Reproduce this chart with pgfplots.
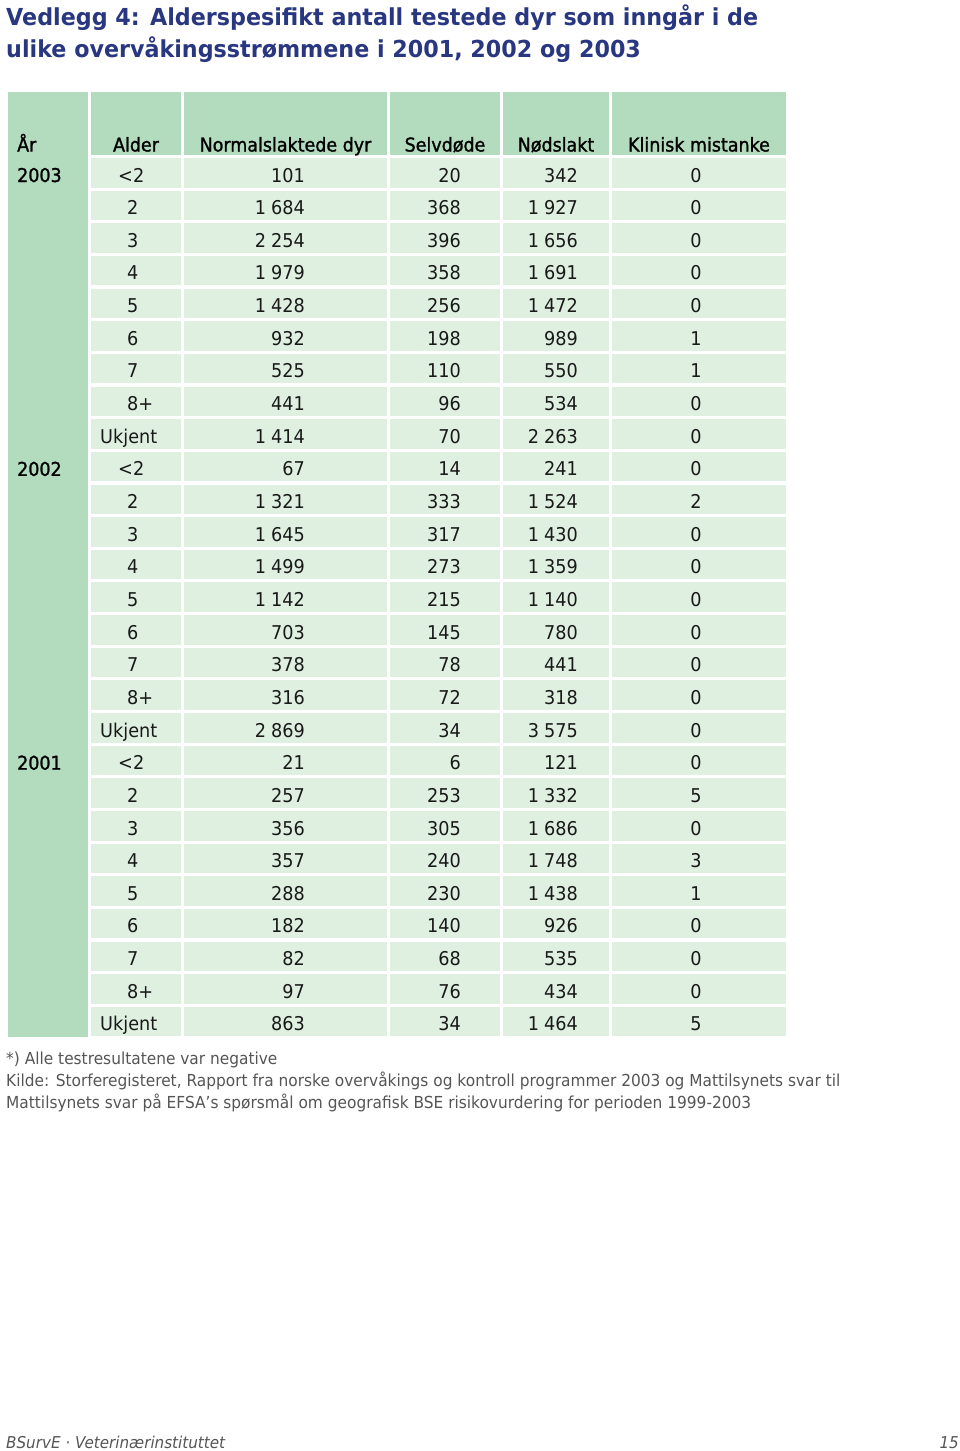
\documentclass[border=0pt]{standalone}
\usepackage{fontspec}
\setmainfont{DejaVu Sans}[FakeStretch=0.93]
\newfontfamily\titlefont{DejaVu Sans}[FakeStretch=0.95]
\newfontfamily\semibold{DejaVu Sans}[FakeStretch=0.92, FakeBold=1.3]
\usepackage{pgfplots}
\pgfplotsset{compat=1.18}
\usepackage{pgfplotstable}
\definecolor{hdr}{RGB}{179,220,190}
\definecolor{cell}{RGB}{223,240,225}
\definecolor{txt}{RGB}{25,25,25}
\definecolor{ttl}{RGB}{40,55,128}
\definecolor{note}{RGB}{85,85,85}
\newcommand\tabfont{\fontsize{19}{22}\selectfont}
\newcommand\hdrfont{\semibold\fontsize{19}{22}\selectfont}

\pgfplotstableread{
r alder ax normal selv nod klin
0 <2 118 101 20 342 0
1 2 127 1684 368 1927 0
2 3 127 2254 396 1656 0
3 4 127 1979 358 1691 0
4 5 127 1428 256 1472 0
5 6 127 932 198 989 1
6 7 127 525 110 550 1
7 8+ 127 441 96 534 0
8 Ukjent 100 1414 70 2263 0
9 <2 118 67 14 241 0
10 2 127 1321 333 1524 2
11 3 127 1645 317 1430 0
12 4 127 1499 273 1359 0
13 5 127 1142 215 1140 0
14 6 127 703 145 780 0
15 7 127 378 78 441 0
16 8+ 127 316 72 318 0
17 Ukjent 100 2869 34 3575 0
18 <2 118 21 6 121 0
19 2 127 257 253 1332 5
20 3 127 356 305 1686 0
21 4 127 357 240 1748 3
22 5 127 288 230 1438 1
23 6 127 182 140 926 0
24 7 127 82 68 535 0
25 8+ 127 97 76 434 0
26 Ukjent 100 863 34 1464 5
}\tabdata

\pgfplotstableread{
r year
0 2003
9 2002
18 2001
}\years

\begin{document}
\begin{tikzpicture}
\begin{axis}[
  scale only axis, width=960pt, height=1451pt,
  xmin=0, xmax=960, ymin=0, ymax=1451, y dir=reverse,
  hide axis, clip=false,
  /pgf/number format/assume math mode=true,
  /pgf/number format/fixed,
  /pgf/number format/precision=0,
  /pgf/number format/1000 sep={\hspace{0.26em}},
  tabtext/.style={only marks, mark=none, nodes near coords,
    nodes near coords align={center},
    every node near coord/.append style={font=\tabfont, text=txt, inner sep=0pt}},
]
% page extent
\path (axis cs:0,0) rectangle (axis cs:960,1451);
% cell backgrounds
\fill[hdr] (axis cs:8,92) rectangle (axis cs:88,1037);
\fill[hdr] (axis cs:91,92) rectangle (axis cs:181,155);
\fill[hdr] (axis cs:184,92) rectangle (axis cs:387,155);
\fill[hdr] (axis cs:390,92) rectangle (axis cs:500,155);
\fill[hdr] (axis cs:503,92) rectangle (axis cs:609,155);
\fill[hdr] (axis cs:612,92) rectangle (axis cs:786,155);
\pgfplotsinvokeforeach{0,...,26}{
  \fill[cell] (axis cs:91,{158+#1*32.65}) rectangle (axis cs:181,{187.5+#1*32.65});
  \fill[cell] (axis cs:184,{158+#1*32.65}) rectangle (axis cs:387,{187.5+#1*32.65});
  \fill[cell] (axis cs:390,{158+#1*32.65}) rectangle (axis cs:500,{187.5+#1*32.65});
  \fill[cell] (axis cs:503,{158+#1*32.65}) rectangle (axis cs:609,{187.5+#1*32.65});
  \fill[cell] (axis cs:612,{158+#1*32.65}) rectangle (axis cs:786,{187.5+#1*32.65});
}
% header
\node[anchor=base west, font=\hdrfont, text=black, inner sep=0pt] at (axis cs:17,151.5) {År};
\node[anchor=base, font=\hdrfont, text=black, inner sep=0pt] at (axis cs:136,151.5) {Alder};
\node[anchor=base, font=\hdrfont, text=black, inner sep=0pt] at (axis cs:285.5,151.5) {Normalslaktede dyr};
\node[anchor=base, font=\hdrfont, text=black, inner sep=0pt] at (axis cs:445,151.5) {Selvdøde};
\node[anchor=base, font=\hdrfont, text=black, inner sep=0pt] at (axis cs:556,151.5) {Nødslakt};
\node[anchor=base, font=\hdrfont, text=black, inner sep=0pt] at (axis cs:699,151.5) {Klinisk mistanke};
% years
\addplot[tabtext, point meta=explicit symbolic,
  every node near coord/.append style={anchor=base west, text=black, font=\hdrfont}]
  table[x expr=17, y expr={182+\thisrow{r}*32.65}, meta=year] {\years};
% ages
\addplot[tabtext, point meta=explicit symbolic,
  every node near coord/.append style={anchor=base west}]
  table[x=ax, y expr={182+\thisrow{r}*32.65}, meta=alder] {\tabdata};
% numbers
\addplot[tabtext, point meta=explicit,
  every node near coord/.append style={anchor=base east}]
  table[x expr=305, y expr={182+\thisrow{r}*32.65}, meta=normal] {\tabdata};
\addplot[tabtext, point meta=explicit,
  every node near coord/.append style={anchor=base east}]
  table[x expr=461, y expr={182+\thisrow{r}*32.65}, meta=selv] {\tabdata};
\addplot[tabtext, point meta=explicit,
  every node near coord/.append style={anchor=base east}]
  table[x expr=578, y expr={182+\thisrow{r}*32.65}, meta=nod] {\tabdata};
\addplot[tabtext, point meta=explicit,
  every node near coord/.append style={anchor=base}]
  table[x expr=696, y expr={182+\thisrow{r}*32.65}, meta=klin] {\tabdata};
% title
\node[anchor=base west, inner sep=0pt, text=ttl, font=\titlefont\bfseries\fontsize{23.4}{28}\selectfont] at (axis cs:6,25) {Vedlegg 4: Alderspesifikt antall testede dyr som inngår i de};
\node[anchor=base west, inner sep=0pt, text=ttl, font=\titlefont\bfseries\fontsize{23.4}{28}\selectfont] at (axis cs:6,57) {ulike overvåkingsstrømmene i 2001, 2002 og 2003};
% notes
\node[anchor=base west, inner sep=0pt, text=note, font=\fontsize{16.55}{19}\selectfont] at (axis cs:6,1064) {*) Alle testresultatene var negative};
\node[anchor=base west, inner sep=0pt, text=note, font=\fontsize{16.55}{19}\selectfont] at (axis cs:6,1086) {Kilde: Storferegisteret, Rapport fra norske overvåkings og kontroll programmer 2003 og Mattilsynets svar til};
\node[anchor=base west, inner sep=0pt, text=note, font=\fontsize{16.55}{19}\selectfont] at (axis cs:6,1108) {Mattilsynets svar på EFSA’s spørsmål om geografisk BSE risikovurdering for perioden 1999-2003};
% footer
\node[anchor=base west, inner sep=0pt, text=note, font=\itshape\fontsize{16.3}{19}\selectfont] at (axis cs:6,1448) {BSurvE · Veterinærinstituttet};
\node[anchor=base east, inner sep=0pt, text=note, font=\itshape\fontsize{16.3}{19}\selectfont] at (axis cs:959,1448) {15};
\end{axis}
\end{tikzpicture}
\end{document}
